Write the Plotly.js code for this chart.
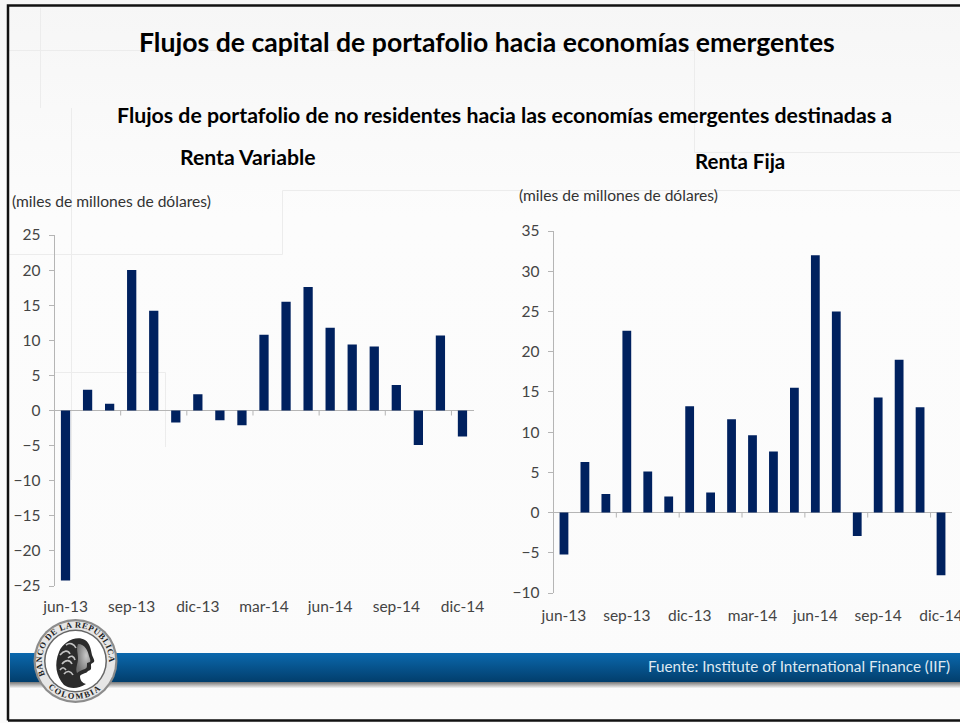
<!DOCTYPE html>
<html><head><meta charset="utf-8">
<script src="https://cdn.plot.ly/plotly-3.0.1.min.js"></script>
<style>
html,body{margin:0;padding:0;background:#fff;overflow:hidden}
#wrap{position:relative;width:960px;height:723px;overflow:hidden}
#bg,#seal{position:absolute;left:0;top:0}
#chart{position:absolute;left:0;top:0;width:960px;height:723px}
</style></head><body>
<div id="wrap">
<svg id="bg" width="960" height="723" xmlns="http://www.w3.org/2000/svg">
<defs>
<linearGradient id="page" x1="0" y1="0" x2="0" y2="1"><stop offset="0" stop-color="#f6f6f6"/><stop offset="0.3" stop-color="#fcfcfc"/><stop offset="1" stop-color="#fbfbfb"/></linearGradient>
<linearGradient id="band" x1="0" y1="0" x2="0" y2="1"><stop offset="0" stop-color="#0b68ad"/><stop offset="1" stop-color="#023e6c"/></linearGradient>
<linearGradient id="shadow" x1="0" y1="0" x2="0" y2="1"><stop offset="0" stop-color="#777"/><stop offset="1" stop-color="#f4f4f4"/></linearGradient>
</defs>
<rect width="960" height="723" fill="url(#page)"/>
<g fill="none" stroke="#ececec" stroke-width="1">
<path d="M9 254.5H282.5V190.5H960"/><path d="M71.5 108V480"/><path d="M694.5 50V152.5H960"/><path d="M55 372.5H165.5V447"/><path d="M9 50.5H694"/><path d="M40.5 8V108"/>
</g>
<rect x="10" y="682" width="950" height="6" fill="url(#shadow)"/>
<rect x="10" y="653" width="950" height="29" fill="url(#band)"/>
<path d="M8 720.5V5.5H960M8 720.5H960" fill="none" stroke="#111" stroke-width="2.5"/>
</svg>
<svg id="seal" width="960" height="723" xmlns="http://www.w3.org/2000/svg">
<defs>
<path id="arcTop" d="M45.5 676A33.5 33.5 0 1 1 105.5 676"/>
<path id="arcBot" d="M43.2 681A38 38 0 0 0 107.8 681"/>
<radialGradient id="face" cx="0.7" cy="0.4" r="0.7"><stop offset="0" stop-color="#c8c8c8"/><stop offset="1" stop-color="#6f6f6f"/></radialGradient>
</defs>
<circle cx="75.5" cy="661" r="42" fill="#8c8c8c"/>
<circle cx="75.5" cy="661" r="39.8" fill="#e6e6e6"/>
<circle cx="75.5" cy="661" r="31.5" fill="#666"/>
<circle cx="75.5" cy="661" r="30" fill="#fff"/>
<path d="M64 685C56 676 54 664 59 652C63 642 76 635 85 640C90 643 91 650 92 655C93 658 95 660 94 662L91 664C91 668 92 670 88 671C86 674 82 673 80 676C80 680 82 683 86 684C78 689 70 689 64 685Z" fill="#2b2b2b"/>
<path d="M78 644C85 644 88 651 89 656C90 659 91 661 90 662L87 663C87 667 87 668 85 669C82 670 79 671 77 673C75 668 78 664 78 658C78 653 76 649 78 644Z" fill="url(#face)"/>
<path d="M60 655C64 650 68 650 70 654M62 664C66 659 70 660 72 664M64 674C67 670 71 671 73 675M66 645C70 642 74 644 76 648M68 658C71 655 74 656 75 660M60 670C62 667 64 667 66 670" stroke="#c4c4c4" stroke-width="1.6" fill="none"/>
<text font-family="Liberation Serif" font-weight="700" font-size="8.5" fill="#222" letter-spacing="0.5"><textPath href="#arcTop" startOffset="1">BANCO DE LA REPUBLICA</textPath></text>
<text font-family="Liberation Serif" font-weight="700" font-size="8.5" fill="#222" letter-spacing="1.4"><textPath href="#arcBot" startOffset="8">COLOMBIA</textPath></text>
</svg>
<div id="chart"></div>
</div>
<script>
var months = ['jun-13','jul-13','ago-13','sep-13','oct-13','nov-13','dic-13','ene-14','feb-14','mar-14','abr-14','may-14','jun-14','jul-14','ago-14','sep-14','oct-14','nov-14','dic-14'];
var rentaVariable = [-24.2,2.95,0.95,20.0,14.2,-1.7,2.3,-1.4,-2.1,10.8,15.5,17.6,11.8,9.4,9.1,3.65,-4.9,10.7,-3.7];
var rentaFija = [-5.2,6.3,2.3,22.6,5.1,2.0,13.2,2.5,11.6,9.6,7.6,15.5,32.0,25.0,-2.9,14.3,19.0,13.1,-7.8];
var xLabels = ['jun-13','sep-13','dic-13','mar-14','jun-14','sep-14','dic-14'];
var quarterBoundaries = [2.5,5.5,8.5,11.5,14.5,17.5];
var yTicksLeft = [-25,-20,-15,-10,-5,0,5,10,15,20,25];
var yTicksRight = [-10,-5,0,5,10,15,20,25,30,35];

var W = 960, H = 723;
var barColor = '#00215f', axisColor = '#b5b5b5', tickColor = '#444';
var font = 'Lato, "Open Sans", sans-serif';
function fx(p){ return p / W; }
function fy(p){ return 1 - p / H; }

var L = {x0:54.5, x1:473.5, top:235, bottom:586, yr:[-25,25]};
var R = {x0:553.5, x1:951.5, top:231, bottom:593, yr:[-10,35]};

function labelAxis(a, anchor, standoff){
  return {domain:[fx(a.x0),fx(a.x1)], anchor:anchor, type:'category', categoryorder:'array', categoryarray:months,
    range:[-0.5,18.5], tickmode:'array', tickvals:xLabels, ticktext:xLabels, ticks:'', showline:false, showgrid:false, zeroline:false,
    tickangle:0, ticklabelstandoff:standoff, tickfont:{family:font,size:15.5,color:tickColor}};
}
function valueAxis(a, anchor, ticks){
  return {domain:[fy(a.bottom),fy(a.top)], anchor:anchor, range:a.yr, tickmode:'array', tickvals:ticks, ticks:'outside', ticklen:5,
    tickcolor:axisColor, tickwidth:1, showline:true, linecolor:axisColor, linewidth:1, showgrid:false,
    zeroline:true, zerolinecolor:axisColor, zerolinewidth:1,
    ticklabelstandoff:5, tickfont:{family:font,size:15.5,color:tickColor}};
}
function note(text, px, py, size, opts){
  opts = opts || {};
  return {xref:'paper', yref:'paper', x:fx(px), y:fy(py), xanchor:opts.anchor||'center', yanchor:'middle', showarrow:false, text:text,
    font:{family:font,size:size,color:opts.color||'#000',weight:opts.weight||400}};
}
function bars(y, xa, ya){
  return {type:'bar', x:months, y:y, xaxis:xa, yaxis:ya, width:0.42, marker:{color:barColor,line:{width:0}}, showlegend:false, hoverinfo:'x+y'};
}
function boundaryTicks(xa, ya){
  return quarterBoundaries.map(function(b){
    return {type:'line', layer:'below', xref:xa, yref:ya, x0:b, x1:b, ysizemode:'pixel', yanchor:0, y0:0, y1:-5, line:{color:axisColor,width:1}};
  });
}
var data = [bars(rentaVariable,'x','y'), bars(rentaFija,'x2','y2')];
var layout = {
  width:W, height:H, margin:{l:0,r:0,t:0,b:0}, paper_bgcolor:'rgba(0,0,0,0)', plot_bgcolor:'rgba(0,0,0,0)',
  showlegend:false,
  xaxis:labelAxis(L,'y',9), yaxis:valueAxis(L,'x',yTicksLeft),
  xaxis2:labelAxis(R,'y2',11), yaxis2:valueAxis(R,'x2',yTicksRight),
  shapes:boundaryTicks('x','y').concat(boundaryTicks('x2','y2')),
  annotations:[
    note('Flujos de capital de portafolio hacia economías emergentes',487,41.5,26.6,{weight:700}),
    note('Flujos de portafolio de no residentes hacia las economías emergentes destinadas a',505,114.5,21.3,{weight:700}),
    note('Renta Variable',247.5,157,21.2,{weight:700}),
    note('Renta Fija',740,161,20.5,{weight:700}),
    note('(miles de millones de dólares)',10,200.5,15.6,{anchor:'left',color:'#333'}),
    note('(miles de millones de dólares)',517,195.5,15.6,{anchor:'left',color:'#333'}),
    note('Fuente: Institute of International Finance (IIF)',952,665.5,15.25,{anchor:'right',color:'#dfe9f2'})
  ]
};
Plotly.newPlot('chart', data, layout, {displayModeBar:false, responsive:false});
</script>
</body></html>
